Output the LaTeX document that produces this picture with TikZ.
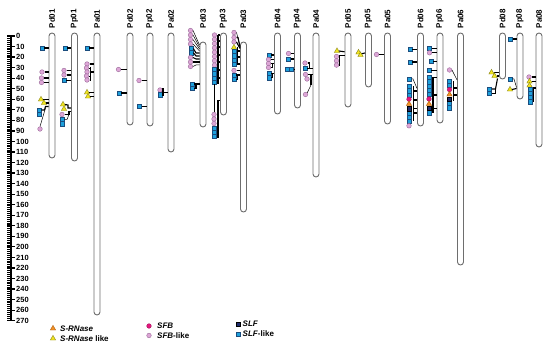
\documentclass[tikz,border=0pt]{standalone}
\usepackage{fontspec}
\setmainfont{Liberation Sans}
\usetikzlibrary{shapes.geometric}
\definecolor{cSLFl}{HTML}{1EA0DC}
\definecolor{cSLFlB}{HTML}{1B4D7E}
\definecolor{cSLF}{HTML}{1F2D6E}
\definecolor{cSFBl}{HTML}{DDA6D6}
\definecolor{cSFBlB}{HTML}{9A6A9A}
\definecolor{cSFB}{HTML}{E5177E}
\definecolor{cSRN}{HTML}{F39226}
\definecolor{cSRNB}{HTML}{A8590C}
\definecolor{cSRNl}{HTML}{F2E51E}
\definecolor{cSRNlB}{HTML}{85801A}
\definecolor{cChr}{HTML}{6E6E6E}
\newcommand\mkgene[4]{\node[#1] (#2) at (#3,#4) {};}
\newcommand\tochr[2]{\draw[bar] (#1.east) -- (#1.east -| #2.west);}
\newcommand\mkchr[4]{\node[chr,minimum height={#4-#3}] (#1) at (#2,{(#3+#4)/2}) {};\node[clab] (L#1) at (#2,28.5) {#1};}
\tikzset{
 chr/.style={draw=cChr, fill=white, line width=0.9pt, rounded corners=3pt, minimum width=6pt, inner sep=0pt},
 clab/.style={rotate=90, anchor=west, inner sep=0pt, font=\bfseries\fontsize{8}{9}\selectfont},
 rlab/.style={anchor=west, inner sep=0pt, font=\bfseries\fontsize{7.5}{9}\selectfont},
 ltxt/.style={anchor=west, inner sep=0pt, font=\bfseries\fontsize{8}{9}\selectfont},
 slfl/.style={rectangle, draw=cSLFlB, fill=cSLFl, line width=0.5pt, minimum size=4.2pt, inner sep=0pt},
 slf/.style={rectangle, draw=black, fill=cSLF, line width=0.5pt, minimum size=4.2pt, inner sep=0pt},
 sfbl/.style={circle, draw=cSFBlB, fill=cSFBl, line width=0.4pt, minimum size=4.6pt, inner sep=0pt},
 sfb/.style={circle, draw=cSFB!70!black, fill=cSFB, line width=0.4pt, minimum size=4.6pt, inner sep=0pt},
 srn/.style={regular polygon, regular polygon sides=3, draw=cSRNB, fill=cSRN, line width=0.4pt, minimum size=6.2pt, inner sep=0pt},
 srnl/.style={regular polygon, regular polygon sides=3, draw=cSRNlB, fill=cSRNl, line width=0.4pt, minimum size=6.2pt, inner sep=0pt},
 bar/.style={draw=black, line width=1.1pt},
 thinln/.style={draw=black, line width=0.5pt},
}
\begin{document}
\begin{tikzpicture}[x=1pt,y=-1pt]
\useasboundingbox (0,0) rectangle (550,344);
% ruler
\fill[black] (7,35.5) rectangle (11.5,321);
\foreach \v in {1,3,...,269} \draw[white,line width=0.4pt] (7,{36+1.0545*\v}) -- (10.3,{36+1.0545*\v});
\foreach \v in {0,10,...,270} {
  \draw[black,line width=1.2pt] (7,{36+1.0545*\v}) -- (15,{36+1.0545*\v});
  \node[rlab] (r\v) at (16,{36+1.0545*\v}) {\v};
}
% chromosomes
\mkchr{Pd01}{52}{33}{158}
\mkchr{Pp01}{74.5}{33}{161}
\mkchr{Pa01}{97}{33}{315}
\mkchr{Pd02}{130}{33}{125}
\mkchr{Pp02}{150}{33}{126}
\mkchr{Pa02}{171}{33}{152}
\mkchr{Pd03}{203}{42}{127}
\mkchr{Pp03}{223.5}{33}{115}
\mkchr{Pa03}{243.5}{42}{212}
\mkchr{Pd04}{277.5}{33}{114}
\mkchr{Pp04}{297.5}{33}{108}
\mkchr{Pa04}{316}{33}{177}
\mkchr{Pd05}{348}{33}{107}
\mkchr{Pp05}{368.5}{33}{87}
\mkchr{Pa05}{387.5}{33}{124}
\mkchr{Pd06}{420.5}{33}{126}
\mkchr{Pp06}{440}{33}{123}
\mkchr{Pa06}{460.5}{33}{265}
\mkchr{Pd08}{502.5}{33}{79}
\mkchr{Pp08}{520}{33}{99}
\mkchr{Pa08}{539}{33}{147}
% ---- Pd01
\mkgene{slfl}{da1}{42}{48} \tochr{da1}{Pd01}
\mkgene{sfbl}{da2}{42}{72} \tochr{da2}{Pd01}
\mkgene{sfbl}{da3}{41.5}{78} \tochr{da3}{Pd01}
\mkgene{sfbl}{da4}{41.5}{82.5} \tochr{da4}{Pd01}
\mkgene{srnl}{da5}{41}{99.5} \tochr{da5}{Pd01}
\mkgene{srnl}{da6}{44}{103} \tochr{da6}{Pd01}
\mkgene{slfl}{da7}{39}{110}
\mkgene{slfl}{da8}{39}{114.2}
\draw[bar] (da7.east) -- (44.5,110) -- (45.5,106.5) -- (Pd01.west |- 0,106.5);
\mkgene{sfbl}{da9}{40}{129}
\draw[thinln] (45.5,108) -- (da9.north);
% ---- Pp01
\mkgene{slfl}{pa1}{65}{48} \tochr{pa1}{Pp01}
\mkgene{sfbl}{pa2}{64}{70.5} \tochr{pa2}{Pp01}
\mkgene{sfbl}{pa3}{64}{75} \tochr{pa3}{Pp01}
\mkgene{slfl}{pa4}{64}{80.5} \tochr{pa4}{Pp01}
\mkgene{srnl}{pa5}{63}{104.5}
\mkgene{srnl}{pa6}{64}{109}
\mkgene{sfbl}{pa7}{62}{114.5}
\mkgene{slfl}{pa8}{62}{119.5}
\mkgene{slfl}{pa9}{62}{123.7}
\draw[bar] (pa5.east) -- (68,105) -- (68,108) -- (Pp01.west |- 0,108);
\draw[bar] (pa7.east) -- (69,114.5) -- (69,111.5) -- (Pp01.west |- 0,111.5);
\draw[thinln] (pa8.east) -- (67,119.5) -- (69,114.5);
% ---- Pa01
\mkgene{slfl}{aa1}{87}{48} \tochr{aa1}{Pa01}
\mkgene{sfbl}{aa2}{87}{64} \tochr{aa2}{Pa01}
\mkgene{sfbl}{aa3}{86.5}{68}
\mkgene{sfbl}{aa4}{87}{72}
\mkgene{sfbl}{aa5}{86.5}{76}
\mkgene{sfbl}{aa6}{87}{80}
\draw[bar] (90.5,67.5) -- (90.5,80.5);
\draw[bar] (90.5,72) -- (Pa01.west |- 0,72);
\draw[thinln] (aa3.east) -- (90.5,68);
\draw[thinln] (aa5.east) -- (90.5,76);
\draw[thinln] (aa6.east) -- (90.5,80);
\mkgene{srnl}{aa7}{87}{92.5} \tochr{aa7}{Pa01}
\mkgene{srnl}{aa8}{88}{96.5} \tochr{aa8}{Pa01}
% ---- Pd02
\mkgene{sfbl}{db1}{118.5}{69.5} \tochr{db1}{Pd02}
\mkgene{slfl}{db2}{119}{93} \tochr{db2}{Pd02}
% ---- Pp02
\mkgene{sfbl}{pb1}{139}{80.5} \tochr{pb1}{Pp02}
\mkgene{slfl}{pb2}{139.5}{106.5} \tochr{pb2}{Pp02}
% ---- Pa02
\mkgene{sfbl}{ab1}{160}{90}
\mkgene{slfl}{ab2}{160}{94.8}
\draw[bar] (163,88.5) -- (163,96.5);
\draw[bar] (163,92.5) -- (Pa02.west |- 0,92.5);
\draw[thinln] (ab1.east) -- (163,90);
\draw[thinln] (ab2.east) -- (163,94.8);
% ---- Pd03
\mkgene{sfbl}{dc1}{190.5}{30.5}
\mkgene{sfbl}{dc2}{190.5}{35}
\mkgene{sfbl}{dc3}{190.5}{39.5}
\mkgene{sfbl}{dc4}{190.5}{44}
\mkgene{slfl}{dc5}{191}{48.5}
\mkgene{slfl}{dc6}{191}{52.7}
\mkgene{sfbl}{dc7}{190.5}{57.5}
\mkgene{sfbl}{dc8}{190.5}{62}
\mkgene{sfbl}{dc9}{190.5}{66.5}
\draw[thinln] (dc1.east) -- (Pd03.west |- 0,45);
\draw[thinln] (dc2.east) -- (Pd03.west |- 0,47);
\draw[thinln] (dc3.east) -- (Pd03.west |- 0,49);
\draw[thinln] (dc4.east) -- (Pd03.west |- 0,51);
\draw[bar] (dc5.east) -- (196,53) -- (Pd03.west |- 0,53);
\draw[bar] (dc6.east) -- (196,56) -- (Pd03.west |- 0,56);
\draw[bar] (dc7.east) -- (196,59) -- (Pd03.west |- 0,59);
\draw[bar] (dc8.east) -- (196,62) -- (Pd03.west |- 0,62);
\draw[thinln] (dc9.east) -- (196,65) -- (Pd03.west |- 0,65);
\mkgene{slfl}{dc10}{192}{84}
\mkgene{slfl}{dc11}{192}{88.2}
\tochr{dc10}{Pd03}
\draw[bar] (dc11.east) -- (196,88.2) -- (196,84);
% ---- Pp03
\foreach \i/\yy in {1/35,2/39.3,3/43.6,4/47.9,5/52.2,6/56.5,7/60.8,8/65.1}
  \mkgene{sfbl}{pc\i}{214.5}{\yy};
\foreach \i/\yy in {9/69.5,10/73.7,11/77.9,12/82.1}
  \mkgene{slfl}{pc\i}{214}{\yy};
\draw[bar] (218,35) -- (218,84);
\foreach \yy in {35,41,47,55,62,70,78}
  \draw[bar] (218,\yy) -- (Pp03.west |- 0,\yy);
\mkgene{sfbl}{pc13}{214}{114.5}
\mkgene{sfbl}{pc14}{214}{119}
\mkgene{sfbl}{pc15}{214}{123.5}
\mkgene{slfl}{pc16}{214}{128}
\mkgene{slfl}{pc17}{214}{132.2}
\mkgene{slfl}{pc18}{214}{136.4}
\draw[thinln] (pc12.south) -- (pc13.north);
\draw[bar] (218,100.5) -- (218,138.5);
\draw[bar] (218,100.5) -- (Pp03.west |- 0,100.5);
% ---- Pa03
\mkgene{sfbl}{ac1}{234}{32.5}
\draw[thinln] (ac1.east) -- (Pa03.west |- 0,46);
\mkgene{sfbl}{ac2}{234}{37.5}
\mkgene{sfbl}{ac3}{234}{42}
\draw[bar] (ac2.east) -- (238,37.5) -- (Pa03.west |- 0,47.5);
\draw[bar] (ac3.east) -- (Pa03.west |- 0,48.5);
\mkgene{srnl}{ac4}{234}{47.5}
\foreach \i/\yy in {5/51.5,6/55.7,7/59.9,8/64.1}
  \mkgene{slfl}{ac\i}{234}{\yy};
\draw[bar] (237.5,47.5) -- (237.5,65);
\foreach \yy in {51,57,64}
  \draw[bar] (237.5,\yy) -- (Pa03.west |- 0,\yy);
\mkgene{sfbl}{ac9}{234}{70.5}
\mkgene{slfl}{ac10}{234}{75}
\mkgene{slfl}{ac11}{234}{79.2}
\tochr{ac9}{Pa03}
\tochr{ac10}{Pa03}
\draw[bar] (ac11.east) -- (237.5,79.2) -- (237.5,75);
% ---- Pd04
\mkgene{slfl}{dd1}{269}{55} \tochr{dd1}{Pd04}
\mkgene{sfbl}{dd2}{268.5}{59.5} \tochr{dd2}{Pd04}
\mkgene{sfbl}{dd3}{268.5}{63.5} \tochr{dd3}{Pd04}
\mkgene{sfbl}{dd4}{268.5}{67.5}
\draw[thinln] (dd4.east) -- (272,67.5) -- (272,63.5);
\mkgene{slfl}{dd5}{269}{73.5} \tochr{dd5}{Pd04}
\mkgene{slfl}{dd6}{269}{77.7}
\draw[bar] (dd6.east) -- (272.5,77.7) -- (272.5,73.5);
% ---- Pp04
\mkgene{sfbl}{pd1}{288.5}{53.5} \tochr{pd1}{Pp04}
\mkgene{slfl}{pd2}{288.5}{59} \tochr{pd2}{Pp04}
\mkgene{slfl}{pd3}{287}{69.5}
\mkgene{slfl}{pd4}{291.2}{69.5} \tochr{pd4}{Pp04}
% ---- Pa04
\mkgene{sfbl}{ad1}{305}{63}
\mkgene{slfl}{ad2}{305}{68.5}
\draw[bar] (ad1.east) -- (309.5,63) -- (309.5,68.5);
\tochr{ad2}{Pa04}
\mkgene{sfbl}{ad3}{305.5}{74.5}
\mkgene{sfbl}{ad4}{307}{79}
\draw[bar] (ad3.east) -- (Pa04.west |- ad3.east);
\draw[bar] (311,74.5) -- (311,85);
\draw[thinln] (ad4.east) -- (311,79);
\mkgene{sfbl}{ad5}{305.5}{94.5}
\draw[thinln] (311,85) -- (ad5.north east);
% ---- Pd05
\mkgene{srnl}{de1}{337}{51}
\mkgene{sfbl}{de2}{336.5}{56.5}
\mkgene{sfbl}{de3}{336.5}{60.8}
\mkgene{sfbl}{de4}{336.5}{65.1}
\draw[bar] (de1.east) -- (Pd05.west |- 0,51.8);
\draw[bar] (339.6,55.2) -- (Pd05.west |- 0,55.2);
\draw[thinln] (339.6,55.2) -- (339.6,65.1);
\draw[thinln] (de3.east) -- (339.6,60.8);
\draw[thinln] (de4.east) -- (339.6,65.1);
% ---- Pp05
\mkgene{srnl}{pe1}{358.5}{52.5}
\mkgene{srnl}{pe2}{360.5}{55}
\draw[bar] (pe2.north east) -- (Pp05.west |- 0,53);
% ---- Pa05
\mkgene{sfbl}{ae1}{376.5}{54.5} \tochr{ae1}{Pa05}
% ---- Pd06
\mkgene{slfl}{df1}{410}{49.5} \tochr{df1}{Pd06}
\mkgene{slfl}{df2}{410}{62} \tochr{df2}{Pd06}
\mkgene{slfl}{df3}{409.5}{79}
\draw[thinln] (df3.east) -- (413,79) -- (Pd06.west |- 0,88.5);
\foreach \i/\yy in {4/86.5,5/90.7,6/94.9,10/113,11/117.2,12/121.4}
  \mkgene{slfl}{df\i}{409}{\yy};
\mkgene{sfb}{df7}{409}{99.2}
\mkgene{srn}{df8}{409}{104}
\mkgene{slf}{df9}{409}{108.8}
\mkgene{sfbl}{df13}{409}{125.8}
\draw[bar] (413.5,86.5) -- (413.5,121.4);
\foreach \yy in {91,100,108.5,113}
  \draw[bar] (413.5,\yy) -- (Pd06.west |- 0,\yy);
% ---- Pp06
\mkgene{slfl}{pf1}{429.5}{48.5} \tochr{pf1}{Pp06}
\mkgene{sfbl}{pf2}{429.5}{52.8} \tochr{pf2}{Pp06}
\mkgene{slfl}{pf3}{431}{61.5} \tochr{pf3}{Pp06}
\mkgene{slfl}{pf4}{429}{70.5} \tochr{pf4}{Pp06}
\foreach \i/\yy in {5/77.5,6/81.7,7/85.9,8/90.1,9/94.3,13/112.8}
  \mkgene{slfl}{pf\i}{429}{\yy};
\mkgene{sfb}{pf10}{429}{99}
\mkgene{srn}{pf11}{429}{104}
\mkgene{slf}{pf12}{429}{108.6}
\draw[bar] (433,77.5) -- (433,112.8);
\foreach \yy in {77.5,95,108.5}
  \draw[bar] (433,\yy) -- (Pp06.west |- 0,\yy);
% ---- Pa06
\mkgene{sfbl}{ag1}{449.5}{70}
\draw[thinln] (ag1.east) -- (Pa06.west |- 0,80);
\foreach \i/\yy in {2/81.3,3/85.5,7/103.5,8/107.7}
  \mkgene{slfl}{ag\i}{449.5}{\yy};
\mkgene{sfb}{ag4}{449.5}{89.6}
\mkgene{srn}{ag5}{449.5}{94.5}
\mkgene{slf}{ag6}{449.5}{99.3}
\draw[bar] (453.5,81) -- (453.5,101);
\foreach \yy in {88,95}
  \draw[bar] (453.5,\yy) -- (Pa06.west |- 0,\yy);
% ---- Pd08
\mkgene{srnl}{dh1}{491.5}{72.5} \tochr{dh1}{Pd08}
\mkgene{srnl}{dh2}{494.5}{76} \tochr{dh2}{Pd08}
\mkgene{slfl}{dh3}{489.5}{89}
\mkgene{slfl}{dh4}{489.5}{93.2}
\draw[bar] (dh3.east) -- (495.5,89) -- (497.5,78.5);
\draw[thinln] (dh4.east) -- (495.5,93.2) -- (495.5,89);
% ---- Pp08
\mkgene{slfl}{ph1}{510.5}{39} \tochr{ph1}{Pp08}
\mkgene{slfl}{ph2}{510}{79}
\mkgene{srnl}{ph3}{510}{89.5}
\draw[thinln] (ph2.east) -- (514,79) -- (Pp08.west |- 0,87.5);
\draw[bar] (ph3.east) -- (Pp08.west |- 0,88.5);
% ---- Pa08
\mkgene{sfbl}{ai1}{529}{77} \tochr{ai1}{Pa08}
\mkgene{srnl}{ai2}{529.5}{81.5} \tochr{ai2}{Pa08}
\mkgene{srnl}{ai3}{529.5}{85.5}
\foreach \i/\yy in {4/89.2,5/93.4,6/97.6,7/101.8}
  \mkgene{slfl}{ai\i}{530}{\yy};
\draw[bar] (533.5,87.5) -- (533.5,102);
\draw[bar] (533.5,88) -- (Pa08.west |- 0,88);
% ---- legend
\mkgene{srn}{k1}{53}{328.5}
\node[ltxt] (t1) at (60,328.5) {\textit{S-RNase}};
\mkgene{srnl}{k2}{53}{338.5}
\node[ltxt] (t2) at (60,338.5) {\textit{S-RNase} like};
\mkgene{sfb}{k3}{149}{326}
\node[ltxt] (t3) at (157,326) {\textit{SFB}};
\mkgene{sfbl}{k4}{149}{335.5}
\node[ltxt] (t4) at (157,335.5) {\textit{SFB}-like};
\mkgene{slf}{k5}{238}{324}
\node[ltxt] (t5) at (242.5,324) {\textit{SLF}};
\mkgene{slfl}{k6}{238}{334}
\node[ltxt] (t6) at (242.5,334) {\textit{SLF}-like};
\end{tikzpicture}
\end{document}
